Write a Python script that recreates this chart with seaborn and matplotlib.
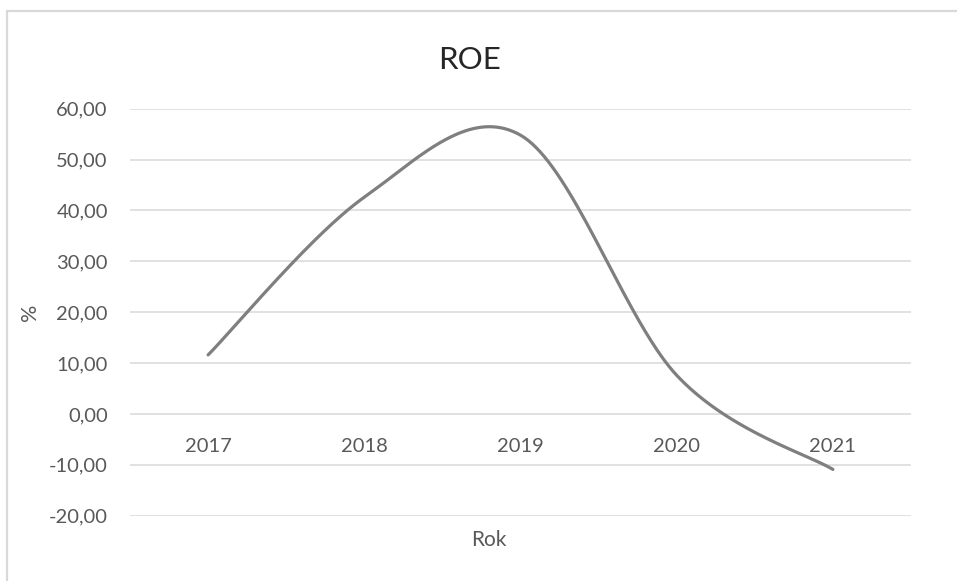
import numpy as np
import pandas as pd
import matplotlib
matplotlib.use("Agg")
import matplotlib.pyplot as plt
import seaborn as sns
from matplotlib.lines import Line2D

# Return on equity by year, in percent
years = ["2017", "2018", "2019", "2020", "2021"]
roe = [11.6, 42.6, 54.8, 7.6, -10.9]
y_ticks = [-20, -10, 0, 10, 20, 30, 40, 50, 60]


def smooth_curve(xv, yv, n=80):
    """Bezier smoothing through every point (Catmull-Rom style control points)."""
    pts = np.column_stack([xv, yv]).astype(float)
    ext = np.vstack([pts[0], pts, pts[-1]])
    t = np.linspace(0, 1, n)[:, None]
    parts = []
    for i in range(len(pts) - 1):
        p0, p3 = ext[i + 1], ext[i + 2]
        c1 = p0 + (ext[i + 2] - ext[i]) / 6
        c2 = p3 - (ext[i + 3] - ext[i + 1]) / 6
        seg = ((1 - t) ** 3) * p0 + 3 * ((1 - t) ** 2) * t * c1 \
            + 3 * (1 - t) * t ** 2 * c2 + t ** 3 * p3
        parts.append(seg if i == 0 else seg[1:])
    return np.vstack(parts)


sns.set_theme(style="white")
plt.rcParams["font.family"] = ["Lato", "DejaVu Sans"]

W, H = 957, 581
fig = plt.figure(figsize=(W / 100, H / 100), dpi=100)
ax = fig.add_axes([130 / W, 1 - 515.7 / H, 781 / W, 407 / H])

pos = np.arange(len(years))
curve = smooth_curve(pos, roe)
df = pd.DataFrame({"x": curve[:, 0], "y": curve[:, 1]})
sns.lineplot(data=df, x="x", y="y", ax=ax, color="#7f7f7f", linewidth=2.3,
             sort=False, estimator=None)

ax.set_xlim(-0.5, len(years) - 0.5)
ax.set_ylim(min(y_ticks), max(y_ticks))
ax.set_yticks(y_ticks)
ax.set_yticklabels([f"{v:.2f}".replace(".", ",") for v in y_ticks])
ax.set_xticks(pos)
ax.set_xticklabels(years)

ax.yaxis.grid(True, color="#d9d9d9", linewidth=1.1)
ax.xaxis.grid(False)
ax.set_axisbelow(True)
for side in ["top", "right", "left"]:
    ax.spines[side].set_visible(False)
# category labels sit next to the zero line
ax.spines["bottom"].set_position(("data", 0))
ax.spines["bottom"].set_visible(False)

ax.tick_params(axis="y", length=0, pad=16, labelsize=14.5, labelcolor="#595959")
ax.tick_params(axis="x", length=0, pad=17, labelsize=14.5, labelcolor="#595959")
ax.set_xlabel("")
ax.set_ylabel("")

fig.text(470 / W, 1 - 60 / H, "ROE", ha="center", va="center",
         fontsize=22.5, color="#262626")
fig.text(30 / W, 1 - 312 / H, "%", ha="center", va="center", rotation=90,
         fontsize=15.5, color="#595959")
fig.text(489 / W, 1 - 540 / H, "Rok", ha="center", va="center",
         fontsize=15, color="#595959")

# chart frame (top and left edges)
fig.add_artist(Line2D([7.5 / W, 1], [1 - 11 / H, 1 - 11 / H],
                      transform=fig.transFigure, color="#d9d9d9", linewidth=1.6))
fig.add_artist(Line2D([7.5 / W, 7.5 / W], [0, 1 - 11 / H],
                      transform=fig.transFigure, color="#d9d9d9", linewidth=1.6))

fig.savefig("out.png", dpi=100, facecolor="white")
